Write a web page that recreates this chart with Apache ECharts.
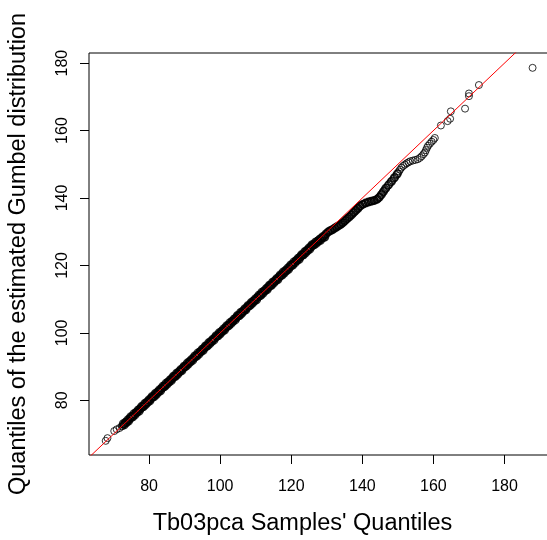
<!DOCTYPE html>
<html>
<head>
<meta charset="utf-8">
<script src="https://cdn.jsdelivr.net/npm/echarts@6/dist/echarts.min.js"></script>
<style>html,body{margin:0;padding:0;background:#fff;}#c{width:547px;height:540px;}</style>
</head>
<body>
<div id="c"></div>
<script>
// Sample quantiles (x) and estimated Gumbel quantiles (y)
var sampleQuantiles = [
67.8,68.3,70.2,70.9,71.7,72.3,
72.6,72.9,73.2,73.5,73.8,74.1,74.4,74.7,75.0,75.3,
75.6,75.9,76.2,76.5,76.8,77.1,77.4,77.7,78.0,78.3,
78.6,78.9,79.2,79.5,79.8,80.1,80.4,80.7,81.0,81.3,
81.6,81.9,82.2,82.5,82.8,83.1,83.4,83.7,84.0,84.3,
84.6,84.9,85.2,85.5,85.8,86.1,86.4,86.7,87.0,87.3,
87.6,87.9,88.2,88.5,88.8,89.1,89.4,89.7,90.0,90.3,
90.6,90.9,91.2,91.5,91.8,92.1,92.4,92.7,93.0,93.3,
93.6,93.9,94.2,94.5,94.8,95.1,95.4,95.7,96.0,96.3,
96.6,96.9,97.2,97.5,97.8,98.1,98.4,98.7,99.0,99.3,
99.6,99.9,100.2,100.5,100.8,101.1,101.4,101.7,102.0,102.3,
102.6,102.9,103.2,103.5,103.8,104.1,104.4,104.7,105.0,105.3,
105.6,105.9,106.2,106.5,106.8,107.1,107.4,107.7,108.0,108.3,
108.6,108.9,109.2,109.5,109.8,110.1,110.4,110.7,111.0,111.3,
111.6,111.9,112.2,112.5,112.8,113.1,113.4,113.7,114.0,114.3,
114.6,114.9,115.2,115.5,115.8,116.1,116.4,116.7,117.0,117.3,
117.6,117.9,118.2,118.5,118.8,119.1,119.4,119.7,120.0,120.3,
120.6,120.9,121.2,121.5,121.8,122.1,122.4,122.7,123.0,123.3,
123.6,123.9,124.2,124.5,124.8,125.1,125.4,125.7,126.0,126.3,
126.6,126.9,127.2,127.5,127.8,128.1,128.4,128.7,129.0,129.3,
129.6,129.9,
130.2,130.5,130.8,131.1,131.4,131.7,132.0,132.3,132.6,132.9,
133.2,133.5,133.8,134.1,134.4,134.7,135.0,135.3,135.6,135.9,
136.2,136.5,136.8,137.1,137.4,137.7,138.0,138.3,138.6,138.9,
139.2,139.5,139.9,140.3,140.7,141.1,141.5,141.9,142.3,142.7,
143.1,143.5,143.9,144.3,144.6,144.9,145.2,145.5,145.8,146.1,
146.4,146.8,147.2,147.6,148.0,148.4,148.8,149.2,149.6,150.0,
150.3,150.6,151.0,151.5,152.0,152.5,153.0,153.5,154.2,154.9,
155.6,156.2,156.7,157.2,157.6,157.9,158.2,158.5,159.0,159.5,
160.0,160.4,162.1,164.0,164.7,164.9,168.9,170.0,170.0,172.8,
187.9
];
var gumbelQuantiles = [
68.0,68.8,70.9,71.4,71.8,72.3,
72.4,72.9,73.1,73.7,73.6,74.0,74.6,74.5,74.9,75.5,
75.4,75.8,76.4,76.3,76.7,77.3,77.2,77.6,78.2,78.1,
78.5,79.1,79.0,79.4,80.0,79.9,80.3,80.9,80.8,81.2,
81.8,81.7,82.1,82.7,82.6,83.0,83.6,83.5,83.9,84.5,
84.4,84.8,85.4,85.3,85.7,86.3,86.2,86.6,87.2,87.1,
87.5,88.1,88.0,88.4,89.0,88.9,89.3,89.9,89.8,90.2,
90.8,90.7,91.1,91.7,91.6,92.0,92.6,92.5,92.9,93.5,
93.4,93.8,94.4,94.3,94.7,95.3,95.2,95.6,96.2,96.1,
96.5,97.1,97.0,97.4,98.0,97.9,98.3,98.9,98.8,99.2,
99.8,99.7,100.1,100.7,100.6,101.0,101.6,101.5,101.9,102.5,
102.4,102.8,103.4,103.3,103.7,104.3,104.2,104.6,105.2,105.1,
105.5,106.1,106.0,106.4,107.0,106.9,107.3,107.9,107.8,108.2,
108.8,108.7,109.1,109.7,109.6,110.0,110.6,110.5,110.9,111.5,
111.4,111.8,112.4,112.3,112.7,113.3,113.2,113.6,114.2,114.1,
114.5,115.1,115.0,115.4,116.0,115.9,116.3,116.9,116.8,117.2,
117.8,117.7,118.1,118.7,118.6,119.0,119.6,119.5,119.9,120.5,
120.4,120.8,121.4,121.3,121.7,122.3,122.2,122.6,123.2,123.1,
123.5,124.1,124.0,124.4,125.0,124.9,125.3,125.9,125.8,126.2,
126.6,126.7,127.0,127.5,127.4,127.7,128.2,128.2,128.5,128.9,
129.1,129.4,
129.8,130.0,130.2,130.4,130.5,130.7,130.9,131.1,131.3,131.5,
131.7,131.9,132.1,132.3,132.6,132.8,133.1,133.4,133.7,134.0,
134.3,134.6,134.9,135.2,135.5,135.8,136.1,136.5,136.8,137.1,
137.4,137.7,138.0,138.2,138.4,138.6,138.7,138.9,139.0,139.1,
139.2,139.3,139.5,139.7,140.0,140.4,140.8,141.3,141.7,142.2,
142.6,143.1,143.6,144.2,144.7,145.2,145.7,146.2,146.8,147.4,
147.9,148.4,149.0,149.5,149.9,150.3,150.6,150.9,151.1,151.3,
151.5,151.9,152.4,153.0,153.5,154.2,154.9,155.5,156.1,156.7,
157.2,157.8,161.5,162.8,163.5,165.7,166.5,170.2,171.0,173.5,
178.6
];
// Further points inside the dense band (between the ones above)
var bandSampleQuantiles = [
72.75,73.05,73.35,73.65,73.95,74.25,74.55,74.85,75.15,75.45,
75.75,76.05,76.35,76.65,76.95,77.25,77.55,77.85,78.15,78.45,
78.75,79.05,79.35,79.65,79.95,80.25,80.55,80.85,81.15,81.45,
81.75,82.05,82.35,82.65,82.95,83.25,83.55,83.85,84.15,84.45,
84.75,85.05,85.35,85.65,85.95,86.25,86.55,86.85,87.15,87.45,
87.75,88.05,88.35,88.65,88.95,89.25,89.55,89.85,90.15,90.45,
90.75,91.05,91.35,91.65,91.95,92.25,92.55,92.85,93.15,93.45,
93.75,94.05,94.35,94.65,94.95,95.25,95.55,95.85,96.15,96.45,
96.75,97.05,97.35,97.65,97.95,98.25,98.55,98.85,99.15,99.45,
99.75,100.05,100.35,100.65,100.95,101.25,101.55,101.85,102.15,102.45,
102.75,103.05,103.35,103.65,103.95,104.25,104.55,104.85,105.15,105.45,
105.75,106.05,106.35,106.65,106.95,107.25,107.55,107.85,108.15,108.45,
108.75,109.05,109.35,109.65,109.95,110.25,110.55,110.85,111.15,111.45,
111.75,112.05,112.35,112.65,112.95,113.25,113.55,113.85,114.15,114.45,
114.75,115.05,115.35,115.65,115.95,116.25,116.55,116.85,117.15,117.45,
117.75,118.05,118.35,118.65,118.95,119.25,119.55,119.85,120.15,120.45,
120.75,121.05,121.35,121.65,121.95,122.25,122.55,122.85,123.15,123.45,
123.75,124.05,124.35,124.65,124.95,125.25,125.55,125.85,126.15,126.45,
126.75,127.05,127.35,127.65,127.95,128.25,128.55,128.85,129.15,129.45,
129.75,
130.35,130.95,131.55,132.15,132.75,133.35,133.95,134.55,135.15,135.75,
136.35,136.95,137.55,138.15,138.75,139.35,140.1,140.9,141.7,142.5,
143.3,144.1,144.75,145.35,145.95,146.6,147.4,148.2,149.0,149.8
];
var bandGumbelQuantiles = [
73.05,72.75,73.45,73.45,74.15,73.85,74.55,75.15,75.05,75.15,
76.05,75.75,76.45,76.45,77.15,76.85,77.55,78.15,78.05,78.15,
79.05,78.75,79.45,79.45,80.15,79.85,80.55,81.15,81.05,81.15,
82.05,81.75,82.45,82.45,83.15,82.85,83.55,84.15,84.05,84.15,
85.05,84.75,85.45,85.45,86.15,85.85,86.55,87.15,87.05,87.15,
88.05,87.75,88.45,88.45,89.15,88.85,89.55,90.15,90.05,90.15,
91.05,90.75,91.45,91.45,92.15,91.85,92.55,93.15,93.05,93.15,
94.05,93.75,94.45,94.45,95.15,94.85,95.55,96.15,96.05,96.15,
97.05,96.75,97.45,97.45,98.15,97.85,98.55,99.15,99.05,99.15,
100.05,99.75,100.45,100.45,101.15,100.85,101.55,102.15,102.05,102.15,
103.05,102.75,103.45,103.45,104.15,103.85,104.55,105.15,105.05,105.15,
106.05,105.75,106.45,106.45,107.15,106.85,107.55,108.15,108.05,108.15,
109.05,108.75,109.45,109.45,110.15,109.85,110.55,111.15,111.05,111.15,
112.05,111.75,112.45,112.45,113.15,112.85,113.55,114.15,114.05,114.15,
115.05,114.75,115.45,115.45,116.15,115.85,116.55,117.15,117.05,117.15,
118.05,117.75,118.45,118.45,119.15,118.85,119.55,120.15,120.05,120.15,
121.05,120.75,121.45,121.45,122.15,121.85,122.55,123.15,123.05,123.15,
124.05,123.75,124.45,124.45,125.15,124.85,125.55,126.15,126.05,126.15,
126.85,126.55,127.15,127.15,127.75,127.45,128.05,128.55,128.35,128.45,
129.35,
129.9,130.3,130.6,131.0,131.4,131.8,132.2,132.7,133.3,133.9,
134.4,135.0,135.7,136.3,136.9,137.6,138.1,138.5,138.8,139.05,
139.25,139.6,140.2,141.0,141.9,142.9,143.9,144.9,146.0,147.1
];
var tickValues = [80, 100, 120, 140, 160, 180];
var refLineX = [55, 200]; // reference line y = x
var xTitle = "Tb03pca Samples' Quantiles";
var yTitle = "Quantiles of the estimated Gumbel distribution";

var points = sampleQuantiles.map(function (x, i) { return [x, gumbelQuantiles[i]]; });
var bandPoints = bandSampleQuantiles.map(function (x, i) { return [x, bandGumbelQuantiles[i]]; });
var refLine = refLineX.map(function (v) { return [v, v]; });

var chart = echarts.init(document.getElementById('c'), null, { renderer: 'canvas' });
var font = 'Liberation Sans, Arial, sans-serif';
chart.setOption({
  animation: false,
  backgroundColor: '#fff',
  grid: {
    left: 89, top: 53, right: -3, bottom: 85,
    outerBoundsMode: 'none', containLabel: false,
    show: true, borderColor: '#000', borderWidth: 1, backgroundColor: 'transparent'
  },
  xAxis: {
    type: 'value', min: 63.1, max: 192.8,
    axisLine: { show: false },
    splitLine: { show: false },
    axisTick: { show: true, customValues: tickValues, length: 9, lineStyle: { color: '#000', width: 1 } },
    axisLabel: { customValues: tickValues, fontSize: 16, color: '#000', fontFamily: font, margin: 24 },
    name: xTitle, nameLocation: 'middle', nameGap: 57,
    nameTextStyle: { fontSize: 23.5, color: '#000', fontFamily: font, padding: [0, 34, 0, 0] }
  },
  yAxis: {
    type: 'value', min: 63.8, max: 183.0,
    axisLine: { show: false },
    splitLine: { show: false },
    axisTick: { show: true, customValues: tickValues, length: 9, lineStyle: { color: '#000', width: 1 } },
    axisLabel: { customValues: tickValues, fontSize: 16, color: '#000', fontFamily: font, margin: 18, rotate: 90 },
    name: yTitle, nameLocation: 'middle', nameGap: 58, nameRotate: 90,
    nameTextStyle: { fontSize: 23.5, color: '#000', fontFamily: font }
  },
  series: [
    {
      type: 'scatter',
      data: points,
      symbol: 'circle',
      symbolSize: 7,
      large: false,
      itemStyle: { color: 'transparent', borderColor: '#000', borderWidth: 1 },
      z: 2
    },
    {
      type: 'scatter',
      data: bandPoints,
      symbol: 'circle',
      symbolSize: 7.5,
      large: false,
      itemStyle: { color: 'transparent', borderColor: '#000', borderWidth: 1.5 },
      z: 2
    },
    {
      type: 'line',
      data: refLine,
      symbol: 'none',
      clip: true,
      lineStyle: { color: '#ff0000', width: 1 },
      z: 3
    }
  ]
});
</script>
</body>
</html>
